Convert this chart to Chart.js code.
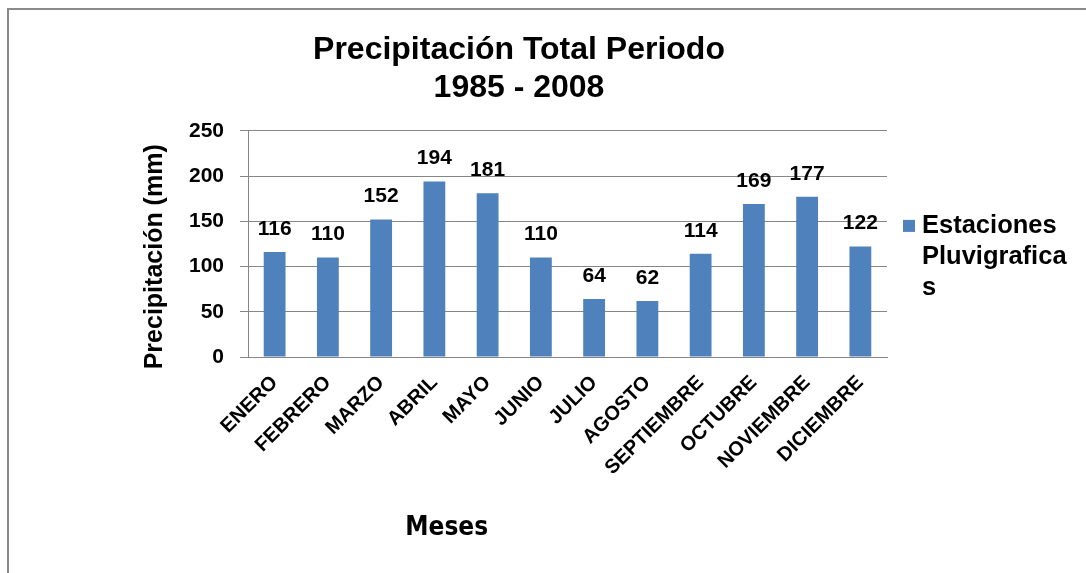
<!DOCTYPE html>
<html><head><meta charset="utf-8">
<script src="https://cdn.jsdelivr.net/npm/chart.js@4.4.0/dist/chart.umd.min.js"></script>
<style>
html,body{margin:0;padding:0;background:#fff;overflow:hidden}
#wrap{position:relative;width:1086px;height:573px}
#frame{position:absolute;left:7px;top:8px;width:1200px;height:700px;border:2px solid #8a8a8a;box-sizing:border-box}
canvas{position:absolute;left:0;top:0}
</style></head><body>
<div id="wrap"><div id="frame"></div><canvas id="c" width="1086" height="573"></canvas></div>
<script>
// ---- data ----
const categories = ['ENERO','FEBRERO','MARZO','ABRIL','MAYO','JUNIO','JULIO','AGOSTO','SEPTIEMBRE','OCTUBRE','NOVIEMBRE','DICIEMBRE'];
const values = [116,110,152,194,181,110,64,62,114,169,177,122];
const seriesLabelLines = ['Estaciones','Pluvigrafica','s'];
const titleLines = ['Precipitación Total Periodo','1985 - 2008'];
const yAxisTitle = 'Precipitación (mm)';
const xAxisTitle = 'Meses';
const yTickValues = [0,50,100,150,200,250];

const FONT = "'Liberation Sans', Arial, Helvetica, sans-serif";
const BAR = '#4F81BD';
const GRID = '#868686';

const chartRef = {};
// custom legend box (multi-line label), reserved via the layout system
const legendBox = {
  position: 'right', weight: 0, fullSize: false, options: { stackWeight: 1 },
  width: 0, height: 0, left: 0, top: 0, right: 0, bottom: 0,
  isHorizontal() { return false; },
  update(maxWidth, maxHeight) { this.width = 151; this.height = maxHeight; return this.width; },
  draw() {
    const chart = chartRef.chart; if (!chart) return;
    const ctx = chart.ctx, ca = chart.chartArea;
    const x0 = ca.right + 16;
    const yc = (ca.top + ca.bottom) / 2 - 18;
    ctx.save();
    ctx.fillStyle = chart.data.datasets[0].backgroundColor;
    ctx.fillRect(x0, yc - 6, 12, 12);
    ctx.fillStyle = '#000';
    ctx.font = 'bold 25.5px ' + FONT;
    ctx.textBaseline = 'middle';
    ctx.textAlign = 'left';
    seriesLabelLines.forEach((t, i) => ctx.fillText(t, x0 + 19, yc + i * 31));
    ctx.restore();
  }
};

const extras = {
  id: 'extras',
  beforeInit(chart) { Chart.layouts.addBox(chart, legendBox); },
  afterDatasetsDraw(chart) {
    const ctx = chart.ctx;
    const meta = chart.getDatasetMeta(0);
    ctx.save();
    ctx.fillStyle = '#000';
    ctx.font = 'bold 21px ' + FONT;
    ctx.textAlign = 'center';
    ctx.textBaseline = 'middle';
    meta.data.forEach((bar, i) => {
      ctx.fillText(String(chart.data.datasets[0].data[i]), bar.x, bar.y - 23);
    });
    ctx.restore();
  },
  afterDraw(chart) {
    const ctx = chart.ctx, ca = chart.chartArea;
    ctx.save();
    ctx.fillStyle = '#000';
    ctx.textAlign = 'center';
    ctx.textBaseline = 'middle';
    ctx.font = 'bold 25px ' + FONT;
    ctx.translate(155, ca.top + (ca.bottom - ca.top) * 0.557);
    ctx.rotate(-Math.PI / 2);
    ctx.fillText(yAxisTitle, 0, 0);
    ctx.restore();
    ctx.save();
    ctx.fillStyle = '#000';
    ctx.textAlign = 'center';
    ctx.textBaseline = 'middle';
    ctx.font = "bold 26px 'Liberation Sans Narrow', 'DejaVu Sans Condensed', " + FONT;
    ctx.fillText(xAxisTitle, ca.left + (ca.right - ca.left) * 0.311, 528);
    ctx.restore();
  }
};

const chart = new Chart(document.getElementById('c'), {
  type: 'bar',
  data: {
    labels: categories,
    datasets: [{ label: seriesLabelLines.join(''), data: values, backgroundColor: BAR, borderWidth: 0,
      barPercentage: 0.41, categoryPercentage: 1.0 }]
  },
  options: {
    responsive: false, animation: false, devicePixelRatio: 1,
    layout: { padding: { left: 0, right: 48, top: 0, bottom: 0 } },
    plugins: {
      legend: { display: false },
      tooltip: { enabled: false },
      title: {
        display: true, text: titleLines, color: '#000',
        font: { family: FONT, size: 32, weight: 'bold', lineHeight: 1.2 },
        padding: { top: 31, bottom: 23 }
      }
    },
    scales: {
      x: {
        grid: { display: false, drawTicks: false },
        border: { display: true, color: GRID, width: 1 },
        ticks: { color: '#000', font: { family: FONT, size: 20, weight: 'bold' },
          minRotation: 45, maxRotation: 45, padding: 14, autoSkip: false },
        afterFit(scale) { scale.height = 216; }
      },
      y: {
        min: 0, max: 250,
        afterBuildTicks(scale) { scale.ticks = yTickValues.map(v => ({ value: v })); },
        grid: { color: GRID, lineWidth: 1, drawTicks: true, tickLength: 8, tickColor: GRID },
        border: { display: true, color: GRID, width: 1 },
        ticks: { color: '#000', font: { family: FONT, size: 21, weight: 'bold' }, padding: 16 },
        afterFit(scale) { scale.width = 248; }
      }
    }
  },
  plugins: [extras]
});
chartRef.chart = chart;
chart.draw();
</script>
</body></html>
